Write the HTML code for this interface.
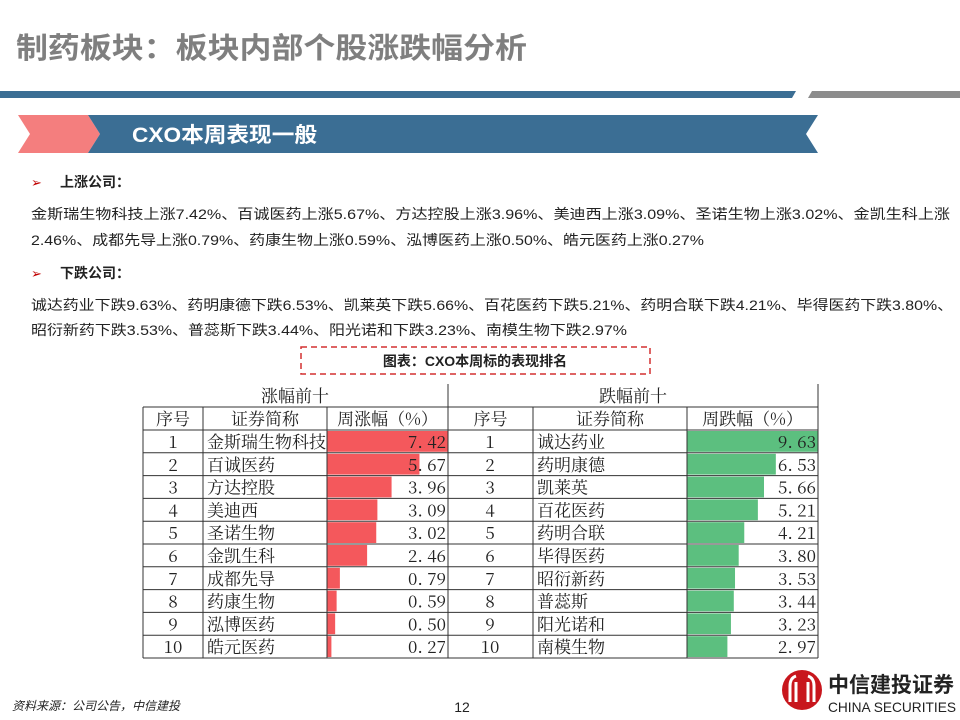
<!DOCTYPE html>
<html><head><meta charset="utf-8">
<style>
html,body{margin:0;padding:0;background:#fff;}
body{width:960px;height:720px;overflow:hidden;position:relative;font-family:"Liberation Sans","Noto Sans CJK SC",sans-serif;}
</style></head><body>
<svg width="960" height="720" style="position:absolute;left:0;top:0">
  <text x="16" y="58" font-size="29" font-weight="bold" fill="#7f7f7f" font-family="Liberation Sans, Noto Sans CJK SC, sans-serif" textLength="511" lengthAdjust="spacingAndGlyphs">制药板块：板块内部个股涨跌幅分析</text>
  <polygon points="0,91 796,91 792,98 0,98" fill="#3b6e94"/>
  <polygon points="812,91 960,91 960,98 808,98" fill="#8c8c8c"/>
  <polygon points="18,115 88,115 100,134 88,153 18,153 30,134" fill="#f47e7e"/>
  <polygon points="88,115 818,115 806,134 818,153 88,153 100,134" fill="#3b6e94"/>
  <text x="132" y="142" font-size="21" font-weight="bold" fill="#fff" font-family="Liberation Sans, Noto Sans CJK SC, sans-serif" textLength="185" lengthAdjust="spacingAndGlyphs">CXO本周表现一般</text>
  <g font-family="Liberation Sans, Noto Sans CJK SC, sans-serif" fill="#222">
    <text x="31" y="187" font-size="13" fill="#c00000">➢</text>
    <text x="60" y="187" font-size="14" font-weight="bold">上涨公司：</text>
    <text x="31" y="219" font-size="14" textLength="919" lengthAdjust="spacingAndGlyphs">金斯瑞生物科技上涨7.42%、百诚医药上涨5.67%、方达控股上涨3.96%、美迪西上涨3.09%、圣诺生物上涨3.02%、金凯生科上涨</text>
    <text x="31" y="245" font-size="14" textLength="673" lengthAdjust="spacingAndGlyphs">2.46%、成都先导上涨0.79%、药康生物上涨0.59%、泓博医药上涨0.50%、皓元医药上涨0.27%</text>
    <text x="31" y="278" font-size="13" fill="#c00000">➢</text>
    <text x="60" y="278" font-size="14" font-weight="bold">下跌公司：</text>
    <text x="31" y="310" font-size="14" textLength="922" lengthAdjust="spacingAndGlyphs">诚达药业下跌9.63%、药明康德下跌6.53%、凯莱英下跌5.66%、百花医药下跌5.21%、药明合联下跌4.21%、毕得医药下跌3.80%、</text>
    <text x="31" y="335" font-size="14" textLength="596" lengthAdjust="spacingAndGlyphs">昭衍新药下跌3.53%、普蕊斯下跌3.44%、阳光诺和下跌3.23%、南模生物下跌2.97%</text>
  </g>
  <rect x="301" y="347" width="349" height="27" fill="none" stroke="#d43030" stroke-width="1.5" stroke-dasharray="6,4"/>
  <text x="475" y="366" text-anchor="middle" font-size="14" font-weight="bold" fill="#222" font-family="Liberation Sans, Noto Sans CJK SC, sans-serif">图表：CXO本周标的表现排名</text>
  <g id="tbl"></g>
  <text x="12" y="710" font-size="12" font-style="italic" fill="#222" font-family="Liberation Sans, Noto Sans CJK SC, sans-serif">资料来源：公司公告，中信建投</text>
  <text x="462" y="712" text-anchor="middle" font-size="14" fill="#222" font-family="Liberation Sans, sans-serif">12</text>
  <g>
    <circle cx="802" cy="690" r="20" fill="#c8161d"/>
    <path d="M790,702 v-16 q0,-8 6,-10 M796,702 v-20 M808,702 v-20 M814,702 v-16 q0,-8 -6,-10" stroke="#fff" stroke-width="3" fill="none"/>
    <text x="828" y="692" font-size="21" font-weight="bold" fill="#222" font-family="Noto Sans CJK SC, sans-serif">中信建投证券</text>
    <text x="828" y="712" font-size="14" fill="#222" font-family="Liberation Sans, sans-serif" textLength="128" lengthAdjust="spacingAndGlyphs">CHINA SECURITIES</text>
  </g>
</svg>
<script>
const upNames=["金斯瑞生物科技","百诚医药","方达控股","美迪西","圣诺生物","金凯生科","成都先导","药康生物","泓博医药","皓元医药"];
const upValues=[7.42,5.67,3.96,3.09,3.02,2.46,0.79,0.59,0.50,0.27];
const downNames=["诚达药业","药明康德","凯莱英","百花医药","药明合联","毕得医药","昭衍新药","普蕊斯","阳光诺和","南模生物"];
const downValues=[9.63,6.53,5.66,5.21,4.21,3.80,3.53,3.44,3.23,2.97];
const NS="http://www.w3.org/2000/svg";
const g=document.getElementById('tbl');
const F='"Noto Serif CJK SC","Liberation Serif",serif';
function el(tag,a,p){const e=document.createElementNS(NS,tag);for(const k in a)e.setAttribute(k,a[k]);(p||g).appendChild(e);return e;}
function txt(x,y,s,anchor,size){const t=el('text',{x:x,y:y,'text-anchor':anchor||'middle','font-size':size||17,fill:'#222','font-family':F});t.textContent=s;return t;}
const top0=384,h1=23,rowH=22.8,dataTop=430;
const rowY=i=>dataTop+i*rowH;
const upMax=Math.max(...upValues),downMax=Math.max(...downValues);
const upX=v=>v/upMax*121, downX=v=>v/downMax*131;
let t;
t=txt(295,402,"涨幅前十");


t=txt(633,402,"跌幅前十");


const cols=[[143,203,"序号"],[203,327,"证券简称"],[327,448,"周涨幅（%）"],[448,533,"序号"],[533,687,"证券简称"],[687,818,"周跌幅（%）"]];
cols.forEach(c=>{t=txt((c[0]+c[1])/2,425,c[2]);

});
upValues.forEach((v,i)=>{const r=el('rect',{x:327,y:rowY(i)+1,width:upX(v),height:rowH-2,fill:'#f4585c'});

});
downValues.forEach((v,i)=>{const r=el('rect',{x:687,y:rowY(i)+1,width:downX(v),height:rowH-2,fill:'#5cbf7f'});

});
const clip=el('clipPath',{id:'c1'});el('rect',{x:203,y:0,width:124,height:720},clip);
const fmt=v=>v.toFixed(2).replace('.','. ');
upNames.forEach((n,i)=>{const y=rowY(i)+18;
txt(173,y,String(i+1));
const nm=txt(207,y,n,'start');nm.setAttribute('clip-path','url(#c1)');


const vt=txt(446,y,fmt(upValues[i]),'end');
vt.setAttribute('style','white-space:pre');

});
downNames.forEach((n,i)=>{const y=rowY(i)+18;
txt(490,y,String(i+1));
const nm=txt(537,y,n,'start');


const vt=txt(816,y,fmt(downValues[i]),'end');
vt.setAttribute('style','white-space:pre');

});
const ln=(x1,y1,x2,y2)=>el('line',{x1:x1,y1:y1,x2:x2,y2:y2,stroke:'#333','stroke-width':1});
ln(143,top0+h1,818,top0+h1);
ln(143,dataTop,818,dataTop);
for(let i=1;i<=10;i++)ln(143,rowY(i),818,rowY(i));
ln(448,top0,448,rowY(10));ln(818,top0,818,rowY(10));
[143,203,327,533,687].forEach(x=>ln(x,top0+h1,x,rowY(10)));
</script>
</body></html>
